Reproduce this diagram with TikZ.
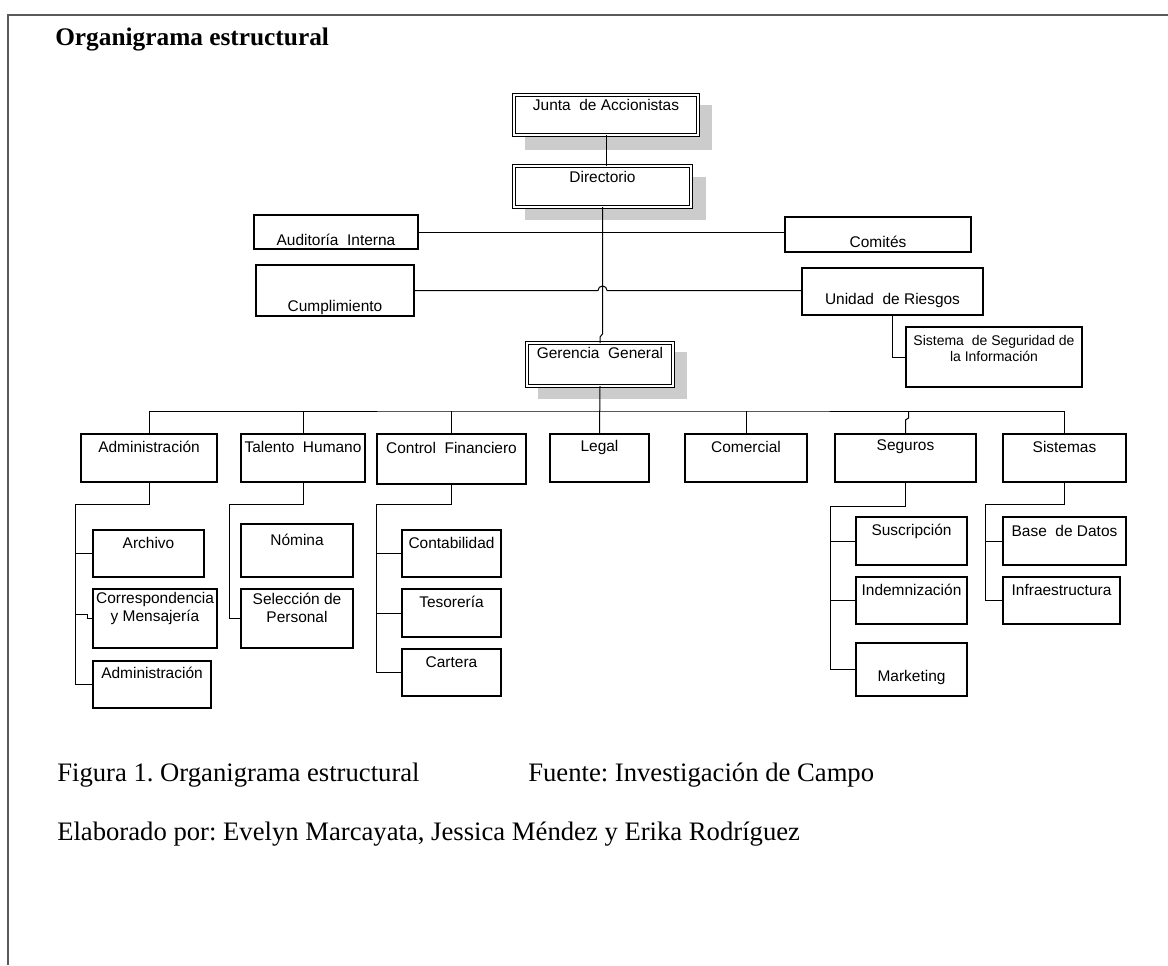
\documentclass[tikz,border=0pt]{standalone}
\usepackage{fontspec}
\setmainfont{Liberation Serif}
\newfontfamily\boxfont{Liberation Sans}
\usetikzlibrary{calc}
\frenchspacing

% plain box: [text style]{name}{x1}{y1}{x2}{y2}{text y}{text}
\newcommand{\orgnode}[8][boxtext]{%
  \node[orgbox, minimum width={(#5-#3)*0.75pt}, minimum height={(#6-#4)*0.75pt}]
    (#2) at ({(#3+#5)/2},{(#4+#6)/2}) {};
  \node[#1] (#2-t) at ({(#3+#5)/2},#7) {#8};}
% double-ruled box of the upper levels
\newcommand{\headnode}[7]{%
  \node[headbox, minimum width={(#4-#2)*0.75pt}, minimum height={(#5-#3)*0.75pt}]
    (#1) at ({(#2+#4)/2},{(#3+#5)/2}) {};
  \node[boxtext] (#1-t) at ({(#2+#4)/2},#6) {#7};}

\begin{document}
\begin{tikzpicture}[x=0.75pt,y=-0.75pt,
  orgbox/.style={draw, line width=0.8pt, rectangle, inner sep=0pt, outer sep=0pt, fill=white},
  headbox/.style={draw, line width=0.6pt, double=white, double distance=1.8pt,
    rectangle, inner sep=0pt, outer sep=0pt, fill=white},
  boxtext/.style={font=\boxfont\fontsize{11.6}{13.5}\selectfont, inner sep=0pt, align=center},
  smalltext/.style={font=\boxfont\fontsize{10.5}{12}\selectfont, inner sep=0pt, align=center},
  link/.style={line width=0.75pt},
  shade/.style={fill=black!20},
  caption/.style={font=\fontsize{20}{23}\selectfont, inner sep=0pt, anchor=base west},
]
\useasboundingbox (0,0) rectangle (1168,965);

% page frame
\draw[line width=1.5pt, black!65] (1168,15) -- (8,15) -- (8,965);

% title
\node[caption, font=\bfseries\fontsize{19}{22}\selectfont] (title) at (55,45) {Organigrama estructural};

% shadows of the upper boxes
\fill[shade] (525,105) rectangle (712,150);
\fill[shade] (525,177) rectangle (706,220);
\fill[shade] (538,352) rectangle (687,399);

% upper levels
\headnode{junta}{514}{95}{698}{135}{105}{Junta\ \ de Accionistas}
\headnode{dir}{514}{166}{691}{207}{177}{Directorio}
\headnode{ger}{527}{343}{673}{386}{353}{Gerencia\ \ General}

\orgnode{aud}{254}{215}{418}{249}{240}{Auditoría\ \ Interna}
\orgnode{com}{785}{217}{971}{252}{242}{Comités}
\orgnode{cum}{256}{265}{414}{316}{307}{Cumplimiento}
\orgnode{uni}{802}{268}{983}{315}{300}{Unidad\ \ de Riesgos}
\orgnode[smalltext]{ssi}{906}{327}{1082}{387}{348}{Sistema\ \ de Seguridad de\\la Información}

% departments
\orgnode{adm}{81}{434}{217}{482}{447}{Administración}
\orgnode{tal}{241}{434}{365}{482}{447}{Talento\ \ Humano}
\orgnode{cfi}{377}{434}{526}{484}{448}{Control\ \ Financiero}
\orgnode{leg}{550}{434}{649}{482}{447}{Legal}
\orgnode{cmr}{685}{434}{807}{482}{447}{Comercial}
\orgnode{seg}{835}{434}{976}{482}{447}{Seguros}
\orgnode{sis}{1003}{434}{1126}{482}{447}{Sistemas}

% units
\orgnode{arc}{93}{530}{204}{577}{543}{Archivo}
\orgnode{cor}{93}{589}{217}{648}{608}{Correspondencia\\y Mensajería}
\orgnode{adb}{93}{661}{211}{708}{673}{Administración}
\orgnode{nom}{241}{524}{353}{577}{540}{Nómina}
\orgnode{sel}{241}{589}{353}{648}{608}{Selección de\\Personal}
\orgnode{con}{402}{530}{501}{577}{543}{Contabilidad}
\orgnode{tes}{402}{589}{501}{637}{602}{Tesorería}
\orgnode{car}{402}{649}{501}{696}{662}{Cartera}
\orgnode{sus}{856}{517}{967}{565}{531}{Suscripción}
\orgnode{ind}{856}{577}{967}{624}{590}{Indemnización}
\orgnode{mkt}{856}{643}{967}{696}{677}{Marketing}
\orgnode{bdd}{1003}{517}{1126}{565}{531}{Base\ \ de Datos}
\orgnode{inf}{1003}{577}{1120}{624}{590}{Infraestructura}

% branch points
\coordinate (bus) at (600,411);
\coordinate (admtr) at (75,504);
\coordinate (taltr) at (229,504);
\coordinate (cfitr) at (376,504);
\coordinate (segtr) at (830,506);
\coordinate (sistr) at (985,504);

% upper connectors
\draw[link] (junta.south) -- (junta.south |- dir.north);
\draw[link] (aud.east) -- (aud.east -| com.west);
\draw[link] (dir.south) -- (dir.south |- 0,334) -- (ger.north |- 0,337) -- (ger.north);
\draw[link] (cum.east) -- ($(dir.south |- cum.east)+(-4.5,0)$)
  arc[start angle=180, end angle=0, radius=3.4pt] -- (uni.west |- cum.east);
\draw[link] (uni.south) |- (ssi.west);

% department bus
\draw[link] (ger.south) -- (leg.north);
\draw[link] (adm.north) |- (bus) -| (sis.north);
\draw[link] (tal.north) -- (tal.north |- bus);
\draw[link] (cfi.north) -- (cfi.north |- bus);
\draw[link] (cmr.north) -- (cmr.north |- bus);
\draw[link] (seg.north) -- ++(0,-14) -- ++(3,-2) -- ($(seg.north |- bus)+(3,0)$);

% Administración
\draw[link] (adm.south) |- (admtr) |- (adb.west);
\draw[link] (admtr |- arc.west) -- (arc.west);
\draw[link] ($(admtr |- cor.west)+(0,-4.5)$) -- ++(12,0) -- ++(0,4.5) -- (cor.west);
% Talento Humano
\draw[link] (tal.south) |- (taltr) |- (sel.west);
% Control Financiero
\draw[link] (cfi.south) |- (cfitr) |- (car.west);
\draw[link] (cfitr |- con.west) -- (con.west);
\draw[link] (cfitr |- tes.west) -- (tes.west);
% Seguros
\draw[link] (seg.south) |- (segtr) |- (mkt.west);
\draw[link] (segtr |- sus.west) -- (sus.west);
\draw[link] (segtr |- ind.west) -- (ind.west);
% Sistemas
\draw[link] (sis.south) |- (sistr) |- (inf.west);
\draw[link] (sistr |- bdd.west) -- (bdd.west);

% captions
\node[caption] (fig) at (57,781) {Figura 1. Organigrama estructural};
\node[caption] (src) at (528,781) {Fuente: Investigación de Campo};
\node[caption] (auth) at (57,840) {Elaborado por: Evelyn Marcayata, Jessica Méndez y Erika Rodríguez};
\end{tikzpicture}
\end{document}
